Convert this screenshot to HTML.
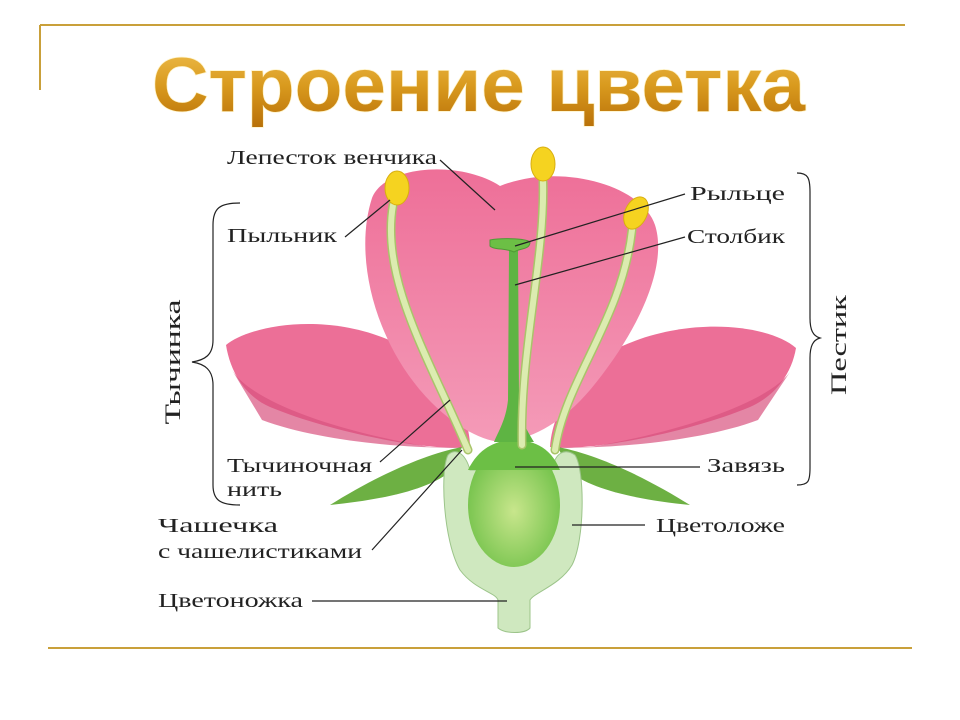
<!DOCTYPE html>
<html><head><meta charset="utf-8"><style>
html,body{margin:0;padding:0;background:#fff;width:960px;height:720px;overflow:hidden}
svg text{font-family:"Liberation Serif","DejaVu Serif",serif;fill:#222}
</style></head><body>
<svg width="960" height="720" viewBox="0 0 960 720" xmlns="http://www.w3.org/2000/svg">
<defs>
<linearGradient id="tg" x1="0" y1="0" x2="0" y2="1">
<stop offset="0" stop-color="#f0c050"/><stop offset="0.5" stop-color="#d99a1e"/><stop offset="1" stop-color="#b87008"/></linearGradient>
<linearGradient id="pk" x1="0" y1="0" x2="0" y2="1">
<stop offset="0" stop-color="#ee6f98"/><stop offset="1" stop-color="#f49bb8"/></linearGradient>
<radialGradient id="ov" cx="0.5" cy="0.55" r="0.6"><stop offset="0" stop-color="#c8e68c"/><stop offset="1" stop-color="#6cbf45"/></radialGradient>
</defs>
<path d="M40 25H905M40 25V90" stroke="#c9a03a" stroke-width="2" fill="none"/>
<path d="M48 648H912" stroke="#c9a03a" stroke-width="2"/>
<text x="152" y="111" textLength="653" lengthAdjust="spacingAndGlyphs" style="font-family:'Liberation Sans',sans-serif;font-weight:bold;font-size:76px;fill:url(#tg);stroke:#fff3c8;stroke-width:1.5;paint-order:stroke">Строение цветка</text>

<path d="M226 345 C250 325 330 310 400 345 C440 365 470 410 470 447 C430 452 330 432 270 407 C243 395 230 370 226 345Z" fill="#ec6f97"/>
<path d="M232 370 C250 400 330 430 430 447 L470 447 C420 450 320 442 262 420 Z" fill="#d9527f" opacity="0.7"/>
<path d="M796 348 C770 325 690 315 620 347 C580 367 552 410 550 447 C590 452 690 432 750 407 C777 395 792 372 796 348Z" fill="#ec6f97"/>
<path d="M790 372 C770 400 690 430 590 447 L550 447 C600 450 700 442 758 420 Z" fill="#d9527f" opacity="0.7"/>
<path d="M500 186 C460 160 385 165 372 198 C355 250 370 330 420 390 C450 425 480 440 500 442 C530 440 560 425 590 390 C640 330 668 265 655 225 C642 185 560 162 500 186Z" fill="url(#pk)"/>

<path d="M462 447 C420 455 370 480 330 505 C380 500 430 490 452 470 Z" fill="#6db043"/>
<path d="M558 447 C600 455 650 480 690 505 C640 500 590 490 568 470 Z" fill="#6db043"/>
<path d="M448 455 C440 470 443 540 460 570 C475 590 495 592 498 600 L498 628 C505 634 525 634 530 628 L530 600 C535 592 560 585 572 565 C585 540 585 470 575 455 C565 448 555 452 552 470 L470 470 C465 452 455 448 448 455Z" fill="#cfe8bf" stroke="#9cc48a" stroke-width="1"/>
<ellipse cx="514" cy="505" rx="46" ry="62" fill="url(#ov)"/>
<path d="M468 470 C480 445 500 440 514 440 C530 440 550 445 560 470 Z" fill="#6cbf45"/>
<path d="M509 250 L508 400 C506 420 498 432 494 442 L534 442 C528 432 520 420 519 400 L518 250Z" fill="#5eb443"/>
<path d="M490 240 C500 238 525 238 530 242 C530 250 520 248 514 252 C506 248 494 250 490 246Z" fill="#6cbf45" stroke="#4e9a35" stroke-width="1"/>
<g fill="none" stroke-linecap="round">
<path d="M393 205 C380 280 430 360 468 450" stroke="#a9c46a" stroke-width="9"/>
<path d="M543 182 C545 260 520 350 522 445" stroke="#a9c46a" stroke-width="9"/>
<path d="M632 230 C622 320 565 380 555 450" stroke="#a9c46a" stroke-width="9"/>
<path d="M393 205 C380 280 430 360 468 450" stroke="#dcecb0" stroke-width="6"/>
<path d="M543 182 C545 260 520 350 522 445" stroke="#dcecb0" stroke-width="6"/>
<path d="M632 230 C622 320 565 380 555 450" stroke="#dcecb0" stroke-width="6"/>
</g>
<ellipse cx="397" cy="188" rx="12" ry="17" fill="#f5d320" stroke="#d8ae10"/>
<ellipse cx="543" cy="164" rx="12" ry="17" fill="#f5d320" stroke="#d8ae10"/>
<ellipse cx="636" cy="213" rx="11" ry="17" transform="rotate(25 636 213)" fill="#f5d320" stroke="#d8ae10"/>

<g stroke="#222" stroke-width="1.2" fill="none">
<path d="M440 160 L495 210"/>
<path d="M345 237 L390 200"/>
<path d="M685 194 L515 246"/>
<path d="M685 237 L515 285"/>
<path d="M380 462 L450 400"/>
<path d="M700 467 L515 467"/>
<path d="M372 550 L462 450"/>
<path d="M645 525 L572 525"/>
<path d="M312 601 L507 601"/>
<path d="M240 203 C220 203 213 208 213 225 L213 340 C213 355 205 360 192 362 C205 364 213 370 213 385 L213 485 C213 500 220 505 240 505"/>
<path d="M797 173 C808 173 810 178 810 192 L810 318 C810 330 813 336 820 338 C813 340 810 346 810 358 L810 468 C810 482 808 485 797 485"/>
</g>

<g font-size="20">
<text x="227" y="164" textLength="210" lengthAdjust="spacingAndGlyphs">Лепесток венчика</text>
<text x="227" y="242" textLength="110" lengthAdjust="spacingAndGlyphs">Пыльник</text>
<text x="690" y="200" textLength="95" lengthAdjust="spacingAndGlyphs">Рыльце</text>
<text x="687" y="243" textLength="98" lengthAdjust="spacingAndGlyphs">Столбик</text>
<text x="227" y="472" textLength="145" lengthAdjust="spacingAndGlyphs">Тычиночная</text>
<text x="227" y="496" textLength="55" lengthAdjust="spacingAndGlyphs">нить</text>
<text x="707" y="472" textLength="78" lengthAdjust="spacingAndGlyphs">Завязь</text>
<text x="158" y="532" textLength="120" lengthAdjust="spacingAndGlyphs">Чашечка</text>
<text x="158" y="558" textLength="204" lengthAdjust="spacingAndGlyphs">с чашелистиками</text>
<text x="656" y="532" textLength="129" lengthAdjust="spacingAndGlyphs">Цветоложе</text>
<text x="158" y="607" textLength="145" lengthAdjust="spacingAndGlyphs">Цветоножка</text>
<text transform="translate(180 362) rotate(-90)" text-anchor="middle" font-size="22" textLength="125" lengthAdjust="spacingAndGlyphs">Тычинка</text>
<text transform="translate(846 345) rotate(-90)" text-anchor="middle" font-size="22" textLength="100" lengthAdjust="spacingAndGlyphs">Пестик</text>
</g>
</svg>
</body></html>
